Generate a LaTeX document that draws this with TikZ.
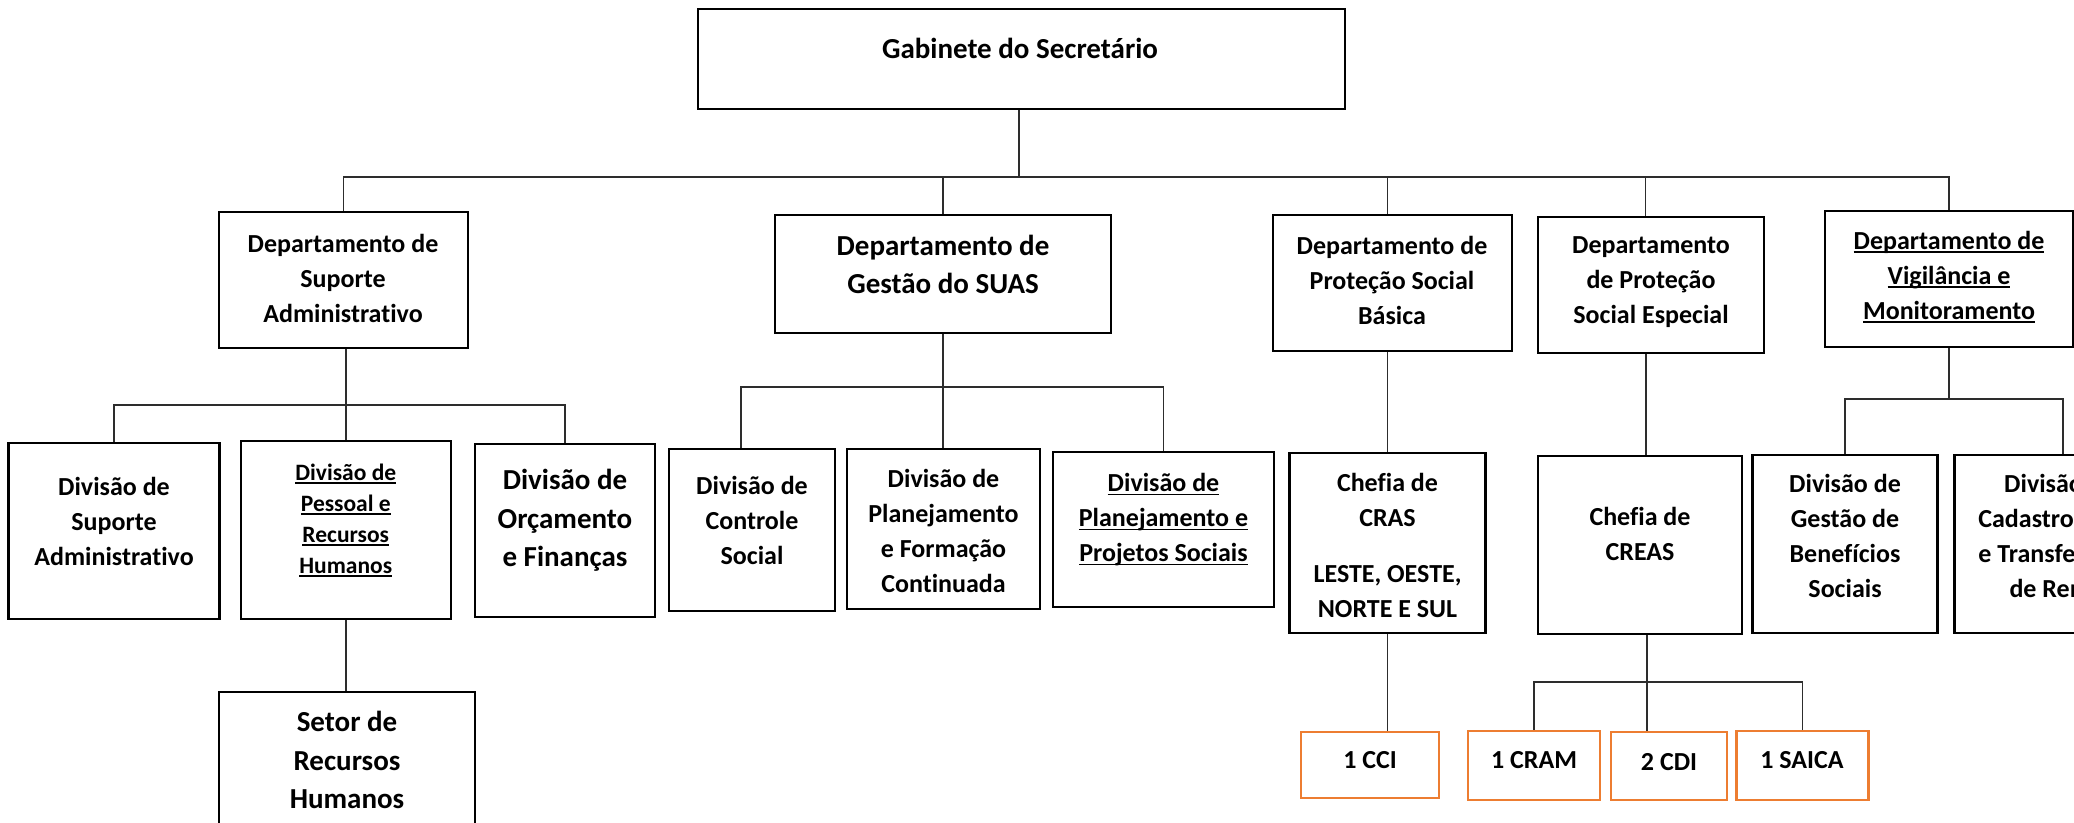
\documentclass[tikz,border=0pt]{standalone}
\usepackage{fontspec}
\setmainfont{Carlito}[Ligatures=NoCommon]
\newcommand{\uln}[1]{\leavevmode\setbox0\hbox{#1}\rlap{\rule[-3.5pt]{\wd0}{1.6pt}}\box0}
\definecolor{org_orange}{RGB}{237, 125, 49}
\definecolor{link_grey}{RGB}{45, 45, 45}
\tikzstyle{box}=[rectangle,draw=black,line width=2.5pt,inner sep=0pt]
\tikzstyle{obox}=[rectangle,draw=org_orange,line width=2.25pt,inner sep=0pt]
\tikzstyle{txt}=[align=center,inner sep=0pt,font=\bfseries\fontsize{26}{35}\selectfont]
\tikzstyle{bigtxt}=[align=center,inner sep=0pt,font=\bfseries\fontsize{29}{38.5}\selectfont]
\tikzstyle{smalltxt}=[align=center,inner sep=0pt,font=\bfseries\fontsize{23.5}{31}\selectfont]
\tikzstyle{link}=[draw=link_grey,line width=1.5pt]

\begin{document}
\begin{tikzpicture}[x=1pt, y=-1pt]
    \useasboundingbox (0, 0) rectangle (2074, 822);
    \clip (0, 0) rectangle (2074, 822);
            % boxes
            \node [style=box, minimum width=647pt, minimum height=100pt] (gab) at (1021.5, 59) {};
            \node [style=box, minimum width=249pt, minimum height=136pt] (dsa) at (343.3, 280) {};
            \node [style=box, minimum width=336pt, minimum height=118pt] (dgs) at (943, 274) {};
            \node [style=box, minimum width=239pt, minimum height=136pt] (dpb) at (1392.5, 283) {};
            \node [style=box, minimum width=226pt, minimum height=136pt] (dpe) at (1651, 285) {};
            \node [style=box, minimum width=248pt, minimum height=136pt] (dvm) at (1949, 279) {};
            \node [style=box, minimum width=211pt, minimum height=176pt] (dvsa) at (114, 531) {};
            \node [style=box, minimum width=210pt, minimum height=178pt] (dvpr) at (345.8, 530) {};
            \node [style=box, minimum width=180pt, minimum height=173pt] (dvof) at (565, 530.5) {};
            \node [style=box, minimum width=166pt, minimum height=162pt] (dvcs) at (752, 530) {};
            \node [style=box, minimum width=193pt, minimum height=160pt] (dvpf) at (943.5, 529) {};
            \node [style=box, minimum width=221pt, minimum height=155pt] (dvpp) at (1163.5, 529.5) {};
            \node [style=box, minimum width=196pt, minimum height=180pt] (ccras) at (1387.5, 543) {};
            \node [style=box, minimum width=204pt, minimum height=178pt] (ccreas) at (1640, 545) {};
            \node [style=box, minimum width=185pt, minimum height=178pt] (dvgb) at (1845, 544) {};
            \node [style=box, minimum width=187pt, minimum height=178pt] (dvct) at (2048, 544) {};
            \node [style=box, minimum width=256pt, minimum height=136pt] (srh) at (347, 760) {};
            \node [style=obox, minimum width=138pt, minimum height=66pt] (cci) at (1369.7, 765) {};
            \node [style=obox, minimum width=132pt, minimum height=69pt] (cram) at (1533.8, 765.5) {};
            \node [style=obox, minimum width=116pt, minimum height=68pt] (cdi) at (1668.8, 766) {};
            \node [style=obox, minimum width=132pt, minimum height=69pt] (saica) at (1802.4, 765.5) {};
            % texts
            \node [style=bigtxt] (gabt) at (1020, 48) {Gabinete do Secretário};
            \node [style=txt] (dsat) at (343, 278) {Departamento de\\Suporte\\Administrativo};
            \node [style=bigtxt] (dgst) at (943, 264.5) {Departamento de\\Gestão do SUAS};
            \node [style=txt] (dpbt) at (1392, 280) {Departamento de\\Proteção Social\\Básica};
            \node [style=txt] (dpet) at (1651, 282) {Departamento\\de Proteção\\Social Especial};
            \node [style=txt] (dvmt) at (1949, 277) {\uln{Departamento de}\\\uln{Vigilância e}\\\uln{Monitoramento}};
            \node [style=txt] (dvsat) at (114, 521.7) {Divisão de\\Suporte\\Administrativo};
            \node [style=smalltxt] (dvprt) at (345.8, 520) {\uln{Divisão de}\\\uln{Pessoal e}\\\uln{Recursos}\\\uln{Humanos}};
            \node [style=bigtxt] (dvoft) at (565, 520.7) {Divisão de\\Orçamento\\e Finanças};
            \node [style=txt] (dvcst) at (752, 520.7) {Divisão de\\Controle\\Social};
            \node [style=txt] (dvpft) at (943.5, 530.7) {Divisão de\\Planejamento\\e Formação\\Continuada};
            \node [style=txt] (dvppt) at (1163.5, 520) {\uln{Divisão de}\\\uln{Planejamento e}\\\uln{Projetos Sociais}};
            \node [style=txt] (ccrast) at (1387.5, 545) {Chefia de\\CRAS\\[21pt]LESTE, OESTE,\\NORTE E SUL};
            \node [style=txt] (ccreast) at (1640, 534) {Chefia de\\CREAS};
            \node [style=txt] (dvgbt) at (1845, 536) {Divisão de\\Gestão de\\Benefícios\\Sociais};
            \node [style=txt] (dvctt) at (2060, 536) {Divisão de\\Cadastro Único\\e Transferência\\de Renda};
            \node [style=bigtxt] (srht) at (347, 760) {Setor de\\Recursos\\Humanos};
            \node [style=txt] (ccit) at (1370, 760) {1 CCI};
            \node [style=txt] (cramt) at (1534, 760) {1 CRAM};
            \node [style=txt] (cdit) at (1669, 761.7) {2 CDI};
            \node [style=txt] (saicat) at (1802, 760) {1 SAICA};
            % buses
            \coordinate (topbus) at (1019, 177);
            \coordinate (supbus) at (345, 405);
            \coordinate (gesbus) at (943, 387);
            \coordinate (vigbus) at (1950, 399);
            \coordinate (crebus) at (1647, 682);
            % links
            \draw [style=link] ([xshift=-2.5pt]gab.south) to ([xshift=-2.5pt]gab.south |- topbus);
            \draw [style=link] (dsa.north) |- (topbus) -| (dvm.north);
            \draw [style=link] (dgs.north) to (dgs.north |- topbus);
            \draw [style=link] ([xshift=-5pt]dpb.north) to ([xshift=-5pt]dpb.north |- topbus);
            \draw [style=link] ([xshift=-5.5pt]dpe.north) to ([xshift=-5.5pt]dpe.north |- topbus);
            \draw [style=link] (dvpr.north |- dsa.south) to (dvpr.north);
            \draw [style=link] (dvsa.north) |- (supbus) -| (dvof.north);
            \draw [style=link] (dvpr.south) to (dvpr.south |- srh.north);
            \draw [style=link] (dgs.south) to (dgs.south |- dvpf.north);
            \draw [style=link] ([xshift=-11pt]dvcs.north) |- (gesbus) -| (dvpp.north);
            \draw [style=link] (ccras.north) to (ccras.north |- dpb.south);
            \draw [style=link] (ccras.south) to (ccras.south |- cci.north);
            \draw [style=link] ([xshift=6pt]ccreas.north) to ([xshift=6pt]ccreas.north |- dpe.south);
            \draw [style=link] ([xshift=7pt]ccreas.south) to ([xshift=7pt]ccreas.south |- cdi.north);
            \draw [style=link] (cram.north) |- (crebus) -| (saica.north);
            \draw [style=link] (dvm.south) to (dvm.south |- vigbus);
            \draw [style=link] (dvgb.north) |- (vigbus) -| ([xshift=15pt]dvct.north);
\end{tikzpicture}
\end{document}
